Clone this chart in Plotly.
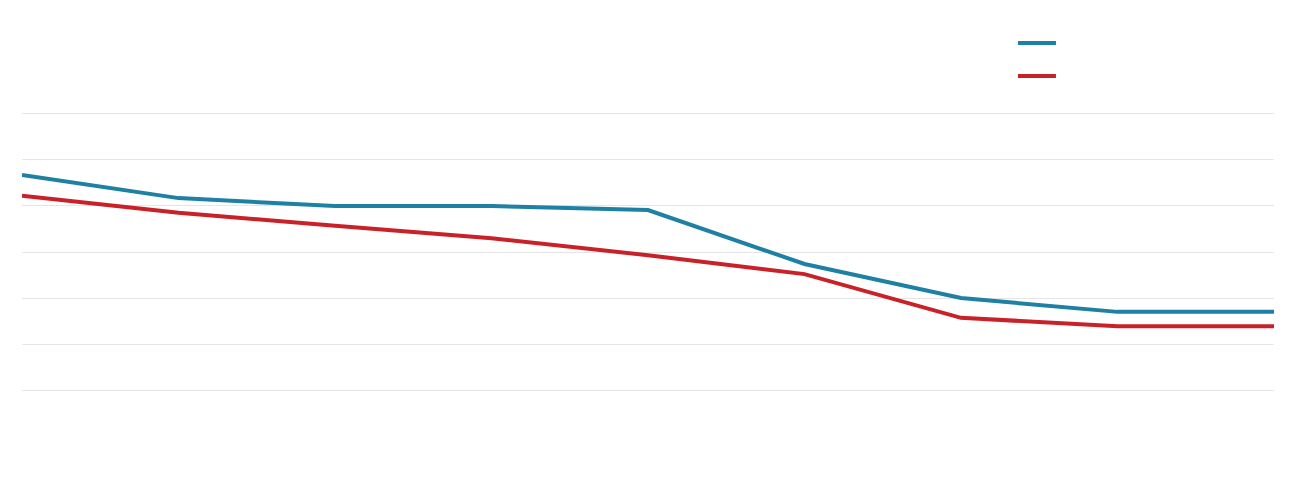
import plotly.graph_objects as go

PERIODS = [1, 2, 3, 4, 5, 6, 7, 8, 9]
SERIES_A = [46.7, 41.7, 40.0, 40.0, 39.1, 27.4, 20.0, 17.0, 17.0]
SERIES_B = [42.2, 38.5, 35.7, 33.0, 29.3, 25.2, 15.7, 13.9, 13.9]
Y_TICKS = [0, 10, 20, 30, 40, 50, 60]

BLUE = "#1e80a2"
RED = "#c92128"
GRID_COLOR = "#e5e5e5"

fig = go.Figure()
fig.add_trace(
    go.Scatter(
        x=PERIODS,
        y=SERIES_A,
        mode="lines",
        name="",
        legendgroup="a",
        line=dict(color=BLUE, width=4),
    )
)
fig.add_trace(
    go.Scatter(
        x=PERIODS,
        y=SERIES_B,
        mode="lines",
        name="",
        legendgroup="b",
        line=dict(color=RED, width=4),
    )
)

# page body adds an 8px margin, so the figure is sized to sit inside it
fig.update_layout(
    width=1284,
    height=484,
    plot_bgcolor="white",
    paper_bgcolor="white",
    margin=dict(l=14, r=18, t=104, b=100),
    showlegend=True,
    legend=dict(
        x=0.7915,
        y=1.2986,
        xanchor="left",
        yanchor="top",
        traceorder="grouped",
        tracegroupgap=14,
        itemwidth=38,
        font=dict(size=12, color="white"),
        bgcolor="rgba(0,0,0,0)",
    ),
)
fig.update_xaxes(
    range=[1, 9],
    showgrid=False,
    zeroline=False,
    showline=False,
    showticklabels=False,
    ticks="",
)
# range padded a little so the 0 and 60 gridlines are not clipped at the edges
fig.update_yaxes(
    range=[-0.4, 60.4],
    tickvals=Y_TICKS,
    showgrid=True,
    gridcolor=GRID_COLOR,
    gridwidth=1,
    zeroline=False,
    showline=False,
    showticklabels=False,
    ticks="",
)

fig.write_html("out.html")
